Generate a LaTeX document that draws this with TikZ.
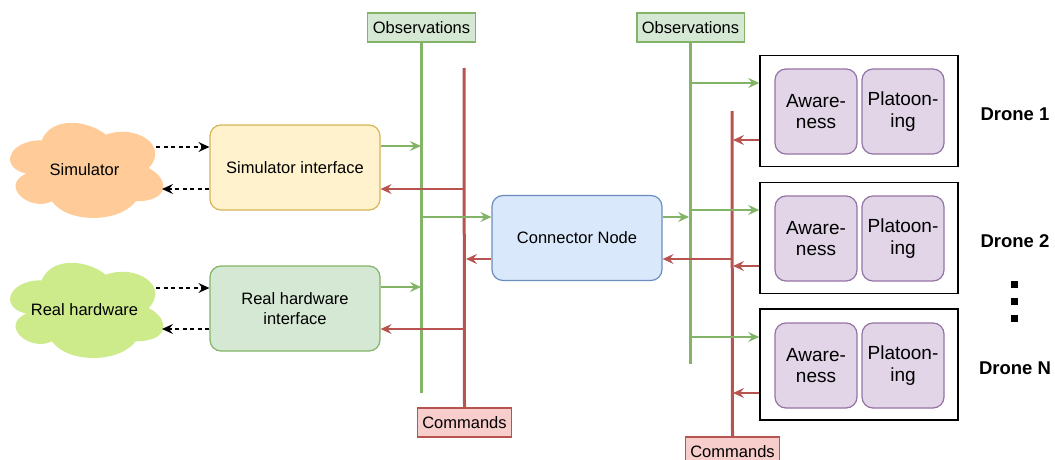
\documentclass[tikz,border=0pt]{standalone}
\usepackage{fontspec}
\setmainfont{Liberation Sans}
\usetikzlibrary{arrows.meta,calc}
\definecolor{gStroke}{HTML}{82B366}
\definecolor{gFill}{HTML}{D5E8D4}
\definecolor{rStroke}{HTML}{B85450}
\definecolor{rFill}{HTML}{F8CECC}
\definecolor{yStroke}{HTML}{D6B656}
\definecolor{yFill}{HTML}{FFF2CC}
\definecolor{bStroke}{HTML}{6C8EBF}
\definecolor{bFill}{HTML}{DAE8FC}
\definecolor{pStroke}{HTML}{9673A6}
\definecolor{pFill}{HTML}{E1D5E7}
\definecolor{cloudO}{HTML}{FFCC99}
\definecolor{cloudG}{HTML}{CDEB8B}
% draw.io style cloud: x0, y0, w, h, colour
\newcommand\mycloudshape[5]{%
  \fill[#5] (#1+0.25*#3,#2+0.25*#4)
    .. controls (#1+0.05*#3,#2+0.25*#4) and (#1,#2+0.5*#4) .. (#1+0.16*#3,#2+0.55*#4)
    .. controls (#1,#2+0.66*#4) and (#1+0.18*#3,#2+0.9*#4) .. (#1+0.31*#3,#2+0.8*#4)
    .. controls (#1+0.4*#3,#2+#4) and (#1+0.7*#3,#2+#4) .. (#1+0.8*#3,#2+0.8*#4)
    .. controls (#1+#3,#2+0.8*#4) and (#1+#3,#2+0.6*#4) .. (#1+0.875*#3,#2+0.5*#4)
    .. controls (#1+#3,#2+0.3*#4) and (#1+0.8*#3,#2+0.1*#4) .. (#1+0.625*#3,#2+0.2*#4)
    .. controls (#1+0.5*#3,#2+0.05*#4) and (#1+0.3*#3,#2+0.05*#4) .. (#1+0.25*#3,#2+0.25*#4) -- cycle;}
\begin{document}
\begin{tikzpicture}[x=1pt,y=-1pt,
  every node/.style={font=\fontsize{16.5}{20}\selectfont, inner sep=0pt, align=center},
  box/.style={draw, rounded corners=11pt, line width=1.2pt, minimum width=170pt, minimum height=85pt},
  label/.style={draw, line width=1.2pt, minimum height=29pt, inner xsep=5pt},
  inner/.style={draw=pStroke, fill=pFill, rounded corners=11pt, line width=1.2pt, minimum width=82pt, minimum height=85pt, font=\fontsize{19}{21.5}\selectfont},
  drone/.style={draw=black, line width=1.5pt, minimum width=198pt, minimum height=111pt},
  gbus/.style={gStroke, line width=3pt},
  rbus/.style={rStroke, line width=3pt},
  garrow/.style={gStroke, line width=1.3pt, -{Stealth[length=11pt,width=10pt,inset=4pt]}},
  rarrow/.style={rStroke, line width=1.3pt, -{Stealth[length=11pt,width=10pt,inset=4pt]}},
  darrow/.style={black, line width=1.3pt, dash pattern=on 4pt off 3.5pt, -{Stealth[length=11pt,width=10pt,inset=4pt]}},
  dlabel/.style={font=\fontsize{18.5}{20}\selectfont\bfseries},
  dot/.style={fill=black, minimum size=7pt, inner sep=0pt}
]
\clip (0,0) rectangle (1055,460);
\fill[white] (0,0) rectangle (1055,460);

% clouds
\mycloudshape{-1}{112.5}{171}{111}{cloudO}
\mycloudshape{-1}{252.5}{171}{111}{cloudG}
\node (sim) at (84.5,170) {Simulator};
\node (hw) at (84.5,310) {Real hardware};

% interfaces
\node[box, draw=yStroke, fill=yFill] (simif) at (295,167.5) {Simulator interface};
\node[box, draw=gStroke, fill=gFill] (hwif) at (295,308.5) {Real hardware\\interface};

% connector
\node[box, draw=bStroke, fill=bFill] (conn) at (577,238) {Connector Node};

% labels
\node[label, draw=gStroke, fill=gFill] (obsL) at (421.5,27.5) {Observations};
\node[label, draw=gStroke, fill=gFill] (obsR) at (690.5,27.5) {Observations};
\node[label, draw=rStroke, fill=rFill] (cmdL) at (464.5,422.5) {Commands};
\node[label, draw=rStroke, fill=rFill] (cmdR) at (732.5,451.5) {Commands};

% buses
\coordinate (gLbot) at (421,393);
\coordinate (rLtop) at (464,68);
\coordinate (gRbot) at (689,364);
\coordinate (rRtop) at (732,111);
\draw[gbus] (obsL.south) -- (obsL.south |- gLbot);
\draw[rbus] (rLtop) -- (cmdL.north);
\draw[gbus] (obsR.south) -- (obsR.south |- gRbot);
\draw[rbus] (rRtop) -- (cmdR.north);

% drones
\node[drone] (d1) at (859,111) {};
\node[drone] (d2) at (859,238) {};
\node[drone] (d3) at (859,364.5) {};
\foreach \i/\y in {1/111.5,2/238.5,3/365.5}{
  \node[inner] (aw\i) at (816,\y) {Aware-\\ness};
  \node[inner] (pl\i) at (903,\y) {Platoon-\\ing};
}
\node[dlabel] (dl1) at (1015,114) {Drone 1};
\node[dlabel] (dl2) at (1015,241) {Drone 2};
\node[dlabel] (dl3) at (1015,368) {Drone N};
\node[dot] (dot1) at (1014,284) {};
\node[dot] (dot2) at (1014,301) {};
\node[dot] (dot3) at (1014,318) {};

% dashed arrows
\coordinate (s1) at (156,147);
\coordinate (s2) at (162,189);
\coordinate (h1) at (156,288);
\coordinate (h2) at (162,329);
\draw[darrow] (s1) -- (simif.west |- s1);
\draw[darrow] (simif.west |- s2) -- (s2);
\draw[darrow] (h1) -- (hwif.west |- h1);
\draw[darrow] (hwif.west |- h2) -- (h2);

% left side arrows
\coordinate (gA) at (421,146);
\coordinate (gB) at (421,287);
\coordinate (gC) at (421,217);
\coordinate (rA) at (464,189);
\coordinate (rB) at (464,329);
\coordinate (rC) at (466,259);
\draw[garrow] (simif.east |- gA) -- (gA);
\draw[garrow] (hwif.east |- gB) -- (gB);
\draw[garrow] (gC) -- (conn.west |- gC);
\draw[rarrow] (rA) -- (simif.east |- rA);
\draw[rarrow] (rB) -- (hwif.east |- rB);
\draw[rarrow] (conn.west |- rC) -- (rC);

% right side arrows
\coordinate (gD) at (689,217);
\coordinate (rD) at (732,259);
\draw[garrow] (conn.east |- gD) -- (gD);
\draw[rarrow] (rD) -- (conn.east |- rD);
\foreach \i/\gy/\ry in {1/83/140,2/210/266,3/337/393}{
  \coordinate (gd\i) at (689,\gy);
  \coordinate (rd\i) at (733,\ry);
  \draw[garrow] (gd\i) -- (d\i.west |- gd\i);
  \draw[rarrow] (d\i.west |- rd\i) -- (rd\i);
}
\end{tikzpicture}
\end{document}
